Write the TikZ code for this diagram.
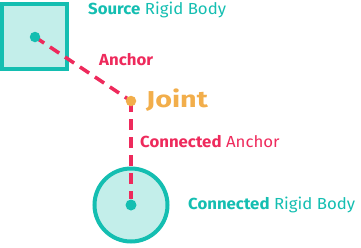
\documentclass[tikz,border=0pt]{standalone}
\usepackage{fontspec}
\setmainfont[FakeStretch=1.05]{Fira Sans}
\newfontfamily\jointfont[FakeStretch=1.25]{Fira Sans}
\definecolor{teal}{HTML}{14BEB1}
\definecolor{tealfill}{HTML}{C3EEEA}
\definecolor{pinkc}{HTML}{EE2A5C}
\definecolor{orangec}{HTML}{F2AE4B}
\begin{document}
\begin{tikzpicture}[x=1pt,y=-1pt,
  body/.style={draw=teal,fill=tealfill,line width=4pt,inner sep=0pt},
  dot/.style={circle,inner sep=0pt,minimum size=10.5pt},
  link/.style={draw=pinkc,line width=3.5pt,dash pattern=on 11pt off 7pt},
  lbl/.style={anchor=base west,inner sep=0pt,font=\fontsize{16}{18}\selectfont}]
\useasboundingbox (0,0) rectangle (361,247);
\node[body,rectangle,minimum width=65pt,minimum height=65pt] (src) at (34.5,36.5) {};
\node[body,circle,minimum size=73pt] (cb) at (131,205) {};
\coordinate (cend) at (131,199);
\draw[link] (35,37) -- (131,101);
\draw[link] (131,101) -- (cend);
\node[dot,fill=teal] (sd) at (35,37) {};
\node[dot,fill=orangec] (jd) at (131,101) {};
\node[dot,fill=teal,minimum size=11pt] (cd) at (131,205) {};
\node[lbl,text=teal] (t1) at (88,14) {\textbf{Source} Rigid Body};
\node[lbl,text=pinkc] (t2) at (99,65) {\textbf{Anchor}};
\node[lbl,text=orangec,font=\jointfont\fontsize{23}{25}\selectfont\bfseries] (t3) at (146,107) {Joint};
\node[lbl,text=pinkc] (t4) at (140,147) {\textbf{Connected} Anchor};
\node[lbl,text=teal] (t5) at (188,209) {\textbf{Connected} Rigid Body};
\end{tikzpicture}
\end{document}
